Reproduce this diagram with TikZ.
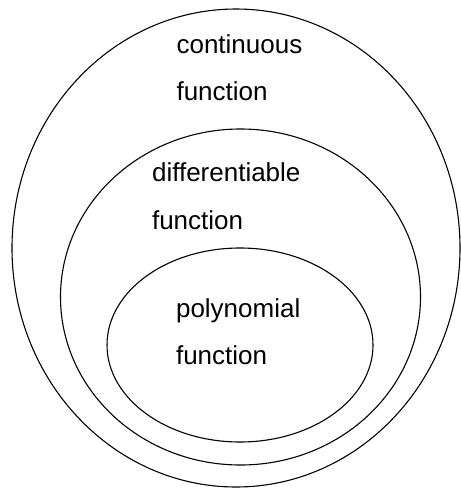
\documentclass[tikz,border=0pt]{standalone}
\usepackage{fontspec}
\setmainfont{Liberation Sans}
\usepackage{tikz}

\tikzset{setlabel/.style={anchor=base west, inner sep=0pt, font=\fontsize{26}{30}\selectfont}}

\begin{document}
\begin{tikzpicture}[x=1pt,y=-1pt,line width=1.1pt]
      \useasboundingbox (0,0) rectangle (461,488);
      \draw (236,248) ellipse [x radius=224, y radius=239]; 
      \draw (240.5,297) ellipse [x radius=180, y radius=168]; 
      \draw (240,345) ellipse [x radius=133, y radius=97]; 
      \node[setlabel] (cont) at (176,53) {continuous}; 
      \node[setlabel] (contf) at (176,100.5) {function}; 
      \node[setlabel] (diff) at (151.5,181.5) {differentiable}; 
      \node[setlabel] (difff) at (151.5,229.5) {function}; 
      \node[setlabel] (poly) at (175.5,317) {polynomial}; 
      \node[setlabel] (polyf) at (175.5,364.5) {function}; 
    \end{tikzpicture}
\end{document}
